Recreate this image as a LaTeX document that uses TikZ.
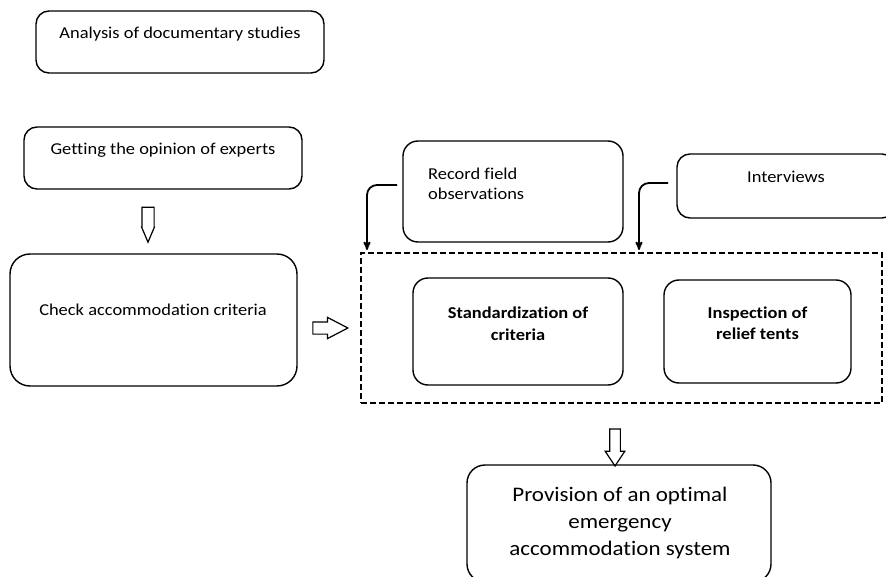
\documentclass[tikz,border=0pt]{standalone}
\usepackage{fontspec}
\setmainfont{Carlito}[FakeStretch=1.11, Ligatures=NoCommon]
\usetikzlibrary{arrows,shapes.arrows}

\tikzset{
  box/.style={draw, line width=1.4pt, rounded corners=13pt, inner sep=0pt},
  txt/.style={font=\fontsize{16.6}{20.5}\selectfont, inner sep=0pt},
  boldtxt/.style={font=\fontsize{16.6}{21}\selectfont\bfseries, inner sep=0pt, align=center},
  bigtxt/.style={font=\fontsize{20.7}{27}\selectfont, inner sep=0pt, align=center},
  blockarrow/.style={draw, line width=1.2pt, single arrow, single arrow head indent=0pt, inner xsep=0pt},
  feed/.style={->, line width=1.8pt, rounded corners=10pt}
}

\begin{document}
\begin{tikzpicture}[x=1pt,y=-1pt,>=stealth']
  \useasboundingbox (0,0) rectangle (886,577);

  % left column
  \node[box, minimum width=288, minimum height=62] (analysis) at (180,42) {};
  \node[txt, anchor=base] (analysisT) at (180,39) {Analysis of documentary studies};
  \node[box, minimum width=278, minimum height=62] (experts) at (163,158) {};
  \node[txt, anchor=base] (expertsT) at (163,155) {Getting the opinion of experts};
  \node[box, rounded corners=20pt, minimum width=287, minimum height=132] (check) at (153.5,320) {};
  \node[txt, anchor=base] (checkT) at (153,316) {Check accommodation criteria};

  \node[blockarrow, rotate=-90, minimum height=35, inner ysep=5.5pt,
        single arrow head extend=0.3pt, single arrow tip angle=46] (down1) at (148,217.5) {};
  \node[blockarrow, minimum height=35, inner ysep=5.5pt,
        single arrow head extend=4.5pt, single arrow tip angle=55] (right1) at (324.5,328) {};

  % sources (base = last line)
  \node[box, rounded corners=15pt, minimum width=220, minimum height=101] (record) at (513,191.5) {};
  \node[txt, anchor=base west, align=left] (recordT) at (428,200) {Record field\\observations};
  \node[box, minimum width=218, minimum height=64] (interviews) at (786,186) {};
  \node[txt, anchor=base] (interviewsT) at (786,183) {Interviews};

  % dashed group
  \node[draw, line width=1.4pt, dash pattern=on 6pt off 3pt, minimum width=521, minimum height=150] (cluster) at (621.5,328) {};
  \node[box, rounded corners=15pt, minimum width=210, minimum height=107] (standard) at (518,331.5) {};
  \node[boldtxt, anchor=base] (standardT) at (518,340) {Standardization of\\criteria};
  \node[box, rounded corners=15pt, minimum width=187, minimum height=103] (inspection) at (757.5,331.5) {};
  \node[boldtxt, anchor=base] (inspectionT) at (757.5,339) {Inspection of\\relief tents};

  \coordinate (recordOut) at (397,185);
  \coordinate (recordIn) at (367,250);
  \coordinate (interOut) at (668,183);
  \coordinate (interIn) at (639,250);
  \draw[feed] (recordOut) -| (recordIn);
  \draw[feed] (interOut) -| (interIn);

  % result
  \node[blockarrow, rotate=-90, minimum height=37, inner ysep=4.75pt,
        single arrow head extend=4.5pt, single arrow tip angle=67] (down2) at (615,443.5) {};
  \node[box, rounded corners=18pt, minimum width=304, minimum height=117] (provision) at (619,523.5) {};
  \node[bigtxt, anchor=base] (provisionT) at (620,555) {Provision of an optimal\\emergency\\accommodation system};
\end{tikzpicture}
\end{document}
